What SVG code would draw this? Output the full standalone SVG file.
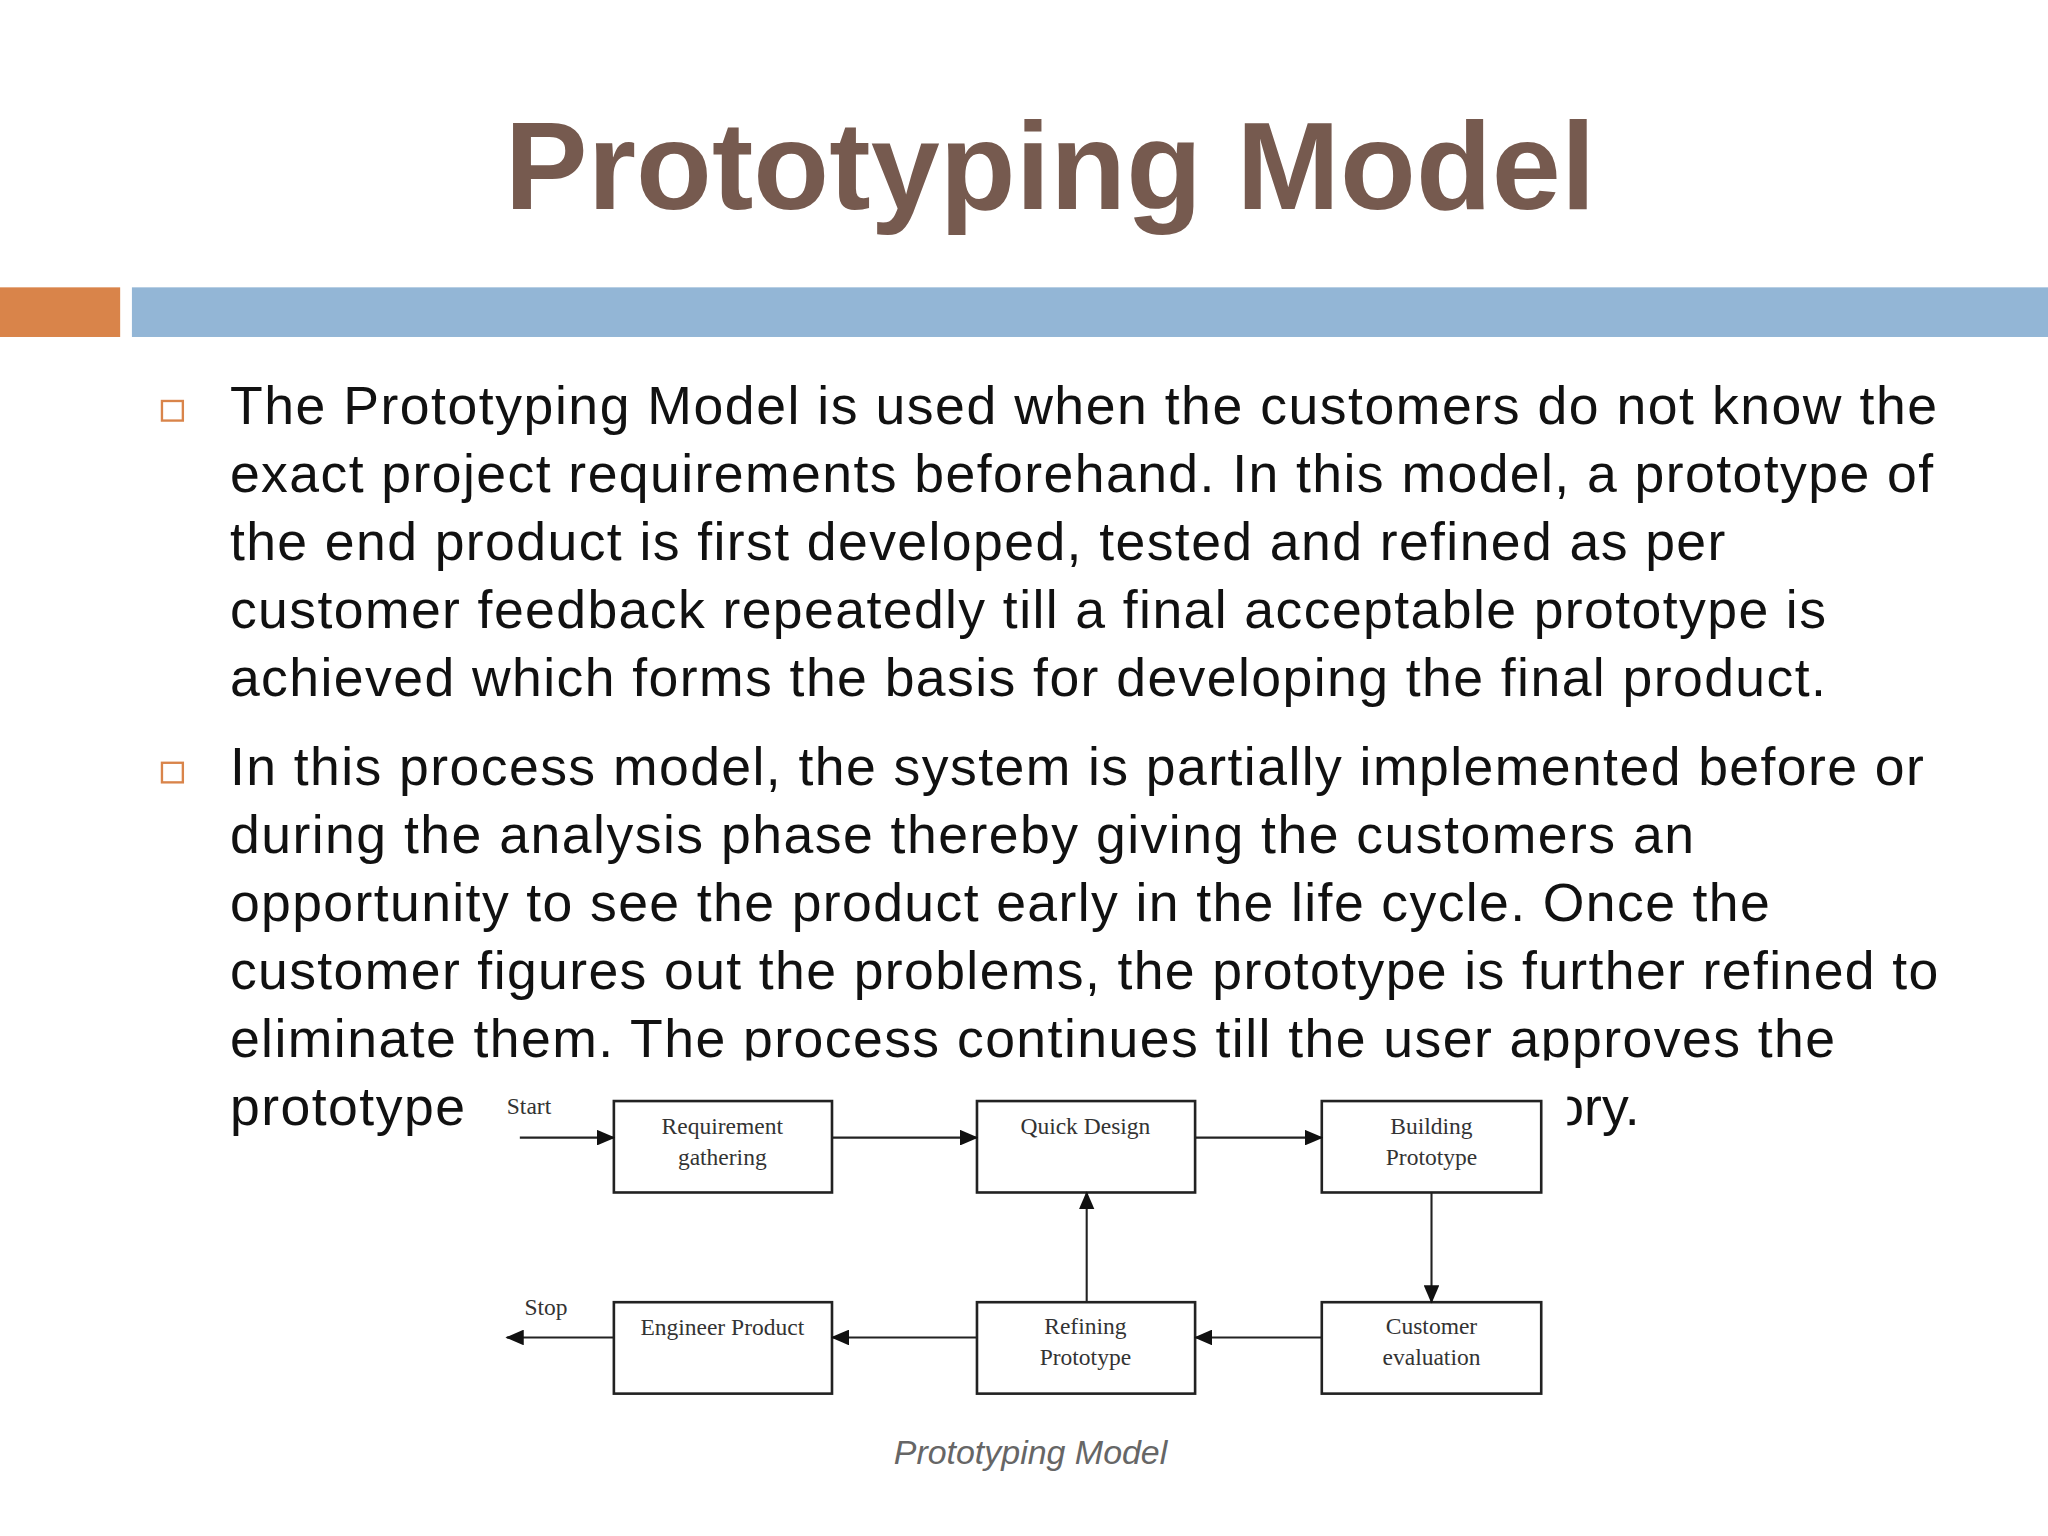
<svg xmlns="http://www.w3.org/2000/svg" width="2048" height="1536" viewBox="0 0 2048 1536">
<style>
.body{font-family:"Liberation Sans",Arial,sans-serif;font-size:41px;fill:#111}
.box{fill:#fff;stroke:#222;stroke-width:2}
.lbl{font-family:"Liberation Serif","Times New Roman",serif;font-size:18px;fill:#333;text-anchor:middle}
.edge{stroke:#222;stroke-width:1.6;fill:none;marker-end:url(#ah)}
.bul{fill:none;stroke:#d9844a;stroke-width:1.8}
</style>
<defs><marker id="ah" markerWidth="14" markerHeight="12" refX="13" refY="6" orient="auto" markerUnits="userSpaceOnUse"><path d="M0,0 L14,6 L0,12 z" fill="#111"/></marker></defs>
<rect width="2048" height="1536" fill="#fff"/>
<g transform="scale(1.30612)">
<text x="804" y="160" text-anchor="middle" font-family="'Liberation Sans',Arial,sans-serif" font-weight="bold" font-size="95" fill="#765a4f" textLength="835" lengthAdjust="spacing">Prototyping Model</text>
<rect x="0" y="220" width="92" height="38" fill="#d9844a"/>
<rect x="101" y="220" width="1467" height="38" fill="#93b6d6"/>
<rect class="bul" x="124" y="307" width="16" height="15"/>
<rect class="bul" x="124" y="584" width="16" height="15"/>
<text class="body" x="176" y="325" textLength="1307" lengthAdjust="spacing">The Prototyping Model is used when the customers do not know the</text>
<text class="body" x="176" y="377" textLength="1304" lengthAdjust="spacing">exact project requirements beforehand. In this model, a prototype of</text>
<text class="body" x="176" y="429" textLength="1145" lengthAdjust="spacing">the end product is first developed, tested and refined as per</text>
<text class="body" x="176" y="481" textLength="1222" lengthAdjust="spacing">customer feedback repeatedly till a final acceptable prototype is</text>
<text class="body" x="176" y="533" textLength="1222" lengthAdjust="spacing">achieved which forms the basis for developing the final product.</text>
<text class="body" x="176" y="601" textLength="1297" lengthAdjust="spacing">In this process model, the system is partially implemented before or</text>
<text class="body" x="176" y="653" textLength="1121" lengthAdjust="spacing">during the analysis phase thereby giving the customers an</text>
<text class="body" x="176" y="705" textLength="1179" lengthAdjust="spacing">opportunity to see the product early in the life cycle. Once the</text>
<text class="body" x="176" y="757" textLength="1308" lengthAdjust="spacing">customer figures out the problems, the prototype is further refined to</text>
<text class="body" x="176" y="809" textLength="1229" lengthAdjust="spacing">eliminate them. The process continues till the user approves the</text>
<text class="body" x="176" y="861" textLength="180" lengthAdjust="spacing">prototype</text>
<text class="body" x="1190" y="861">ory.</text>
<rect x="366" y="812" width="834" height="325" fill="#fff"/>
<g id="n1"><rect class="box" x="470" y="843" width="167" height="70"/><text class="lbl" x="553" y="868">Requirement</text><text class="lbl" x="553" y="892">gathering</text></g>
<g id="n2"><rect class="box" x="748" y="843" width="167" height="70"/><text class="lbl" x="831" y="868">Quick Design</text></g>
<g id="n3"><rect class="box" x="1012" y="843" width="168" height="70"/><text class="lbl" x="1096" y="868">Building</text><text class="lbl" x="1096" y="892">Prototype</text></g>
<g id="n4"><rect class="box" x="470" y="997" width="167" height="70"/><text class="lbl" x="553" y="1022">Engineer Product</text></g>
<g id="n5"><rect class="box" x="748" y="997" width="167" height="70"/><text class="lbl" x="831" y="1021">Refining</text><text class="lbl" x="831" y="1045">Prototype</text></g>
<g id="n6"><rect class="box" x="1012" y="997" width="168" height="70"/><text class="lbl" x="1096" y="1021">Customer</text><text class="lbl" x="1096" y="1045">evaluation</text></g>
<text class="lbl" x="405" y="853" font-size="16">Start</text>
<text class="lbl" x="418" y="1007" font-size="16">Stop</text>
<g id="edges">
<line class="edge" x1="398" y1="871" x2="470" y2="871"/>
<line class="edge" x1="637" y1="871" x2="748" y2="871"/>
<line class="edge" x1="915" y1="871" x2="1012" y2="871"/>
<line class="edge" x1="1096" y1="913" x2="1096" y2="997"/>
<line class="edge" x1="1012" y1="1024" x2="915" y2="1024"/>
<line class="edge" x1="748" y1="1024" x2="637" y2="1024"/>
<line class="edge" x1="470" y1="1024" x2="388" y2="1024"/>
<line class="edge" x1="832" y1="997" x2="832" y2="913"/>
</g>
<text x="789" y="1121" text-anchor="middle" font-family="'Liberation Sans',Arial,sans-serif" font-style="italic" font-size="26" fill="#666">Prototyping Model</text>
</g>
</svg>
